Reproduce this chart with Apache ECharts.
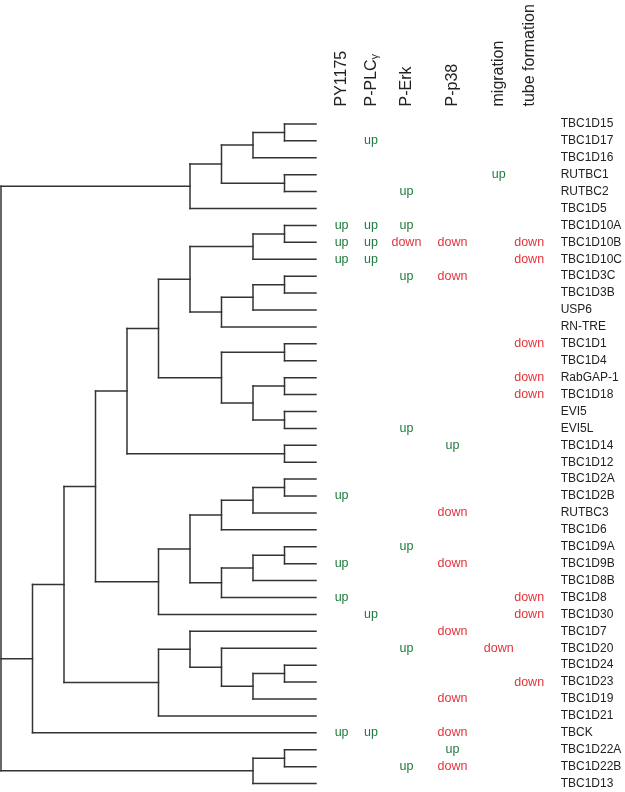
<!DOCTYPE html>
<html>
<head>
<meta charset="utf-8">
<script src="https://cdn.jsdelivr.net/npm/echarts@6/dist/echarts.min.js"></script>
<style>html,body{margin:0;padding:0;background:#fff}#c{width:625px;height:792px}</style>
</head>
<body>
<div id="c"></div>
<script>
// ---------- data ----------
const leafNames = ['TBC1D15','TBC1D17','TBC1D16','RUTBC1','RUTBC2','TBC1D5','TBC1D10A','TBC1D10B','TBC1D10C','TBC1D3C','TBC1D3B','USP6','RN-TRE','TBC1D1','TBC1D4','RabGAP-1','TBC1D18','EVI5','EVI5L','TBC1D14','TBC1D12','TBC1D2A','TBC1D2B','RUTBC3','TBC1D6','TBC1D9A','TBC1D9B','TBC1D8B','TBC1D8','TBC1D30','TBC1D7','TBC1D20','TBC1D24','TBC1D23','TBC1D19','TBC1D21','TBCK','TBC1D22A','TBC1D22B','TBC1D13'];

// dendrogram: [mergeLevel, child, child, ...]; leaves are names (level 10)
const tree = [0,
  [6, [7, [8, [9,'TBC1D15','TBC1D17'], 'TBC1D16'], [9,'RUTBC1','RUTBC2']], 'TBC1D5'],
  [1,
    [2,
      [3,
        [4,
          [5,
            [6, [8, [9,'TBC1D10A','TBC1D10B'], 'TBC1D10C'], [7, [8, [9,'TBC1D3C','TBC1D3B'], 'USP6'], 'RN-TRE']],
            [7, [9,'TBC1D1','TBC1D4'], [8, [9,'RabGAP-1','TBC1D18'], [9,'EVI5','EVI5L']]]
          ],
          [9,'TBC1D14','TBC1D12']
        ],
        [5,
          [6, [7, [8, [9,'TBC1D2A','TBC1D2B'], 'RUTBC3'], 'TBC1D6'], [7, [8, [9,'TBC1D9A','TBC1D9B'], 'TBC1D8B'], 'TBC1D8']],
          'TBC1D30'
        ]
      ],
      [5, [6, 'TBC1D7', [7, 'TBC1D20', [8, [9,'TBC1D24','TBC1D23'], 'TBC1D19']]], 'TBC1D21']
    ],
    'TBCK'
  ],
  [8, [9,'TBC1D22A','TBC1D22B'], 'TBC1D13']
];
const leafLevel = 10;

const columns = ['PY1175','P-PLCγ','P-Erk','P-p38','migration','tube formation'];
const colPY1175 = {'TBC1D10A':'up','TBC1D10B':'up','TBC1D10C':'up','TBC1D2B':'up','TBC1D9B':'up','TBC1D8':'up','TBCK':'up'};
const colPPLCg  = {'TBC1D17':'up','TBC1D10A':'up','TBC1D10B':'up','TBC1D10C':'up','TBC1D30':'up','TBCK':'up'};
const colPErk   = {'RUTBC2':'up','TBC1D10A':'up','TBC1D10B':'down','TBC1D3C':'up','EVI5L':'up','TBC1D9A':'up','TBC1D20':'up','TBC1D22B':'up'};
const colPp38   = {'TBC1D10B':'down','TBC1D3C':'down','TBC1D14':'up','RUTBC3':'down','TBC1D9B':'down','TBC1D7':'down','TBC1D19':'down','TBCK':'down','TBC1D22A':'up','TBC1D22B':'down'};
const colMigration = {'RUTBC1':'up','TBC1D20':'down'};
const colTube   = {'TBC1D10B':'down','TBC1D10C':'down','TBC1D1':'down','RabGAP-1':'down','TBC1D18':'down','TBC1D8':'down','TBC1D30':'down','TBC1D23':'down'};
const columnData = [colPY1175, colPPLCg, colPErk, colPp38, colMigration, colTube];

// ---------- layout constants (not data) ----------
const colPos = [22, 52, 88, 135, 182, 213];
const FONT = 'Liberation Sans, Arial, sans-serif';
const GREEN = '#1e7a3e', RED = '#e3343c';

// ---------- build dendrogram segments ----------
const segments = [];
function layout(node) {
  if (typeof node === 'string') return { x: leafLevel, y: leafNames.indexOf(node) };
  const L = node[0];
  const kids = node.slice(1).map(layout);
  const y0 = kids[0].y, y1 = kids[kids.length - 1].y;
  segments.push([L, y0, L, y1]);
  kids.forEach(k => segments.push([L, k.y, k.x, k.y]));
  return { x: L, y: (y0 + y1) / 2 };
}
layout(tree);

const cells = [];
columnData.forEach((col, ci) => {
  leafNames.forEach((n, ri) => { if (col[n]) cells.push([colPos[ci], ri, col[n]]); });
});

const chart = echarts.init(document.getElementById('c'), null, { renderer: 'canvas' });
chart.setOption({
  animation: false,
  backgroundColor: '#fff',
  grid: [
    { left: 1, top: 115.5, width: 315, height: 680 },
    { left: 320, top: 115.5, width: 240, height: 680 }
  ],
  xAxis: [
    { gridIndex: 0, type: 'value', min: 0, max: 10, show: false },
    { gridIndex: 1, type: 'value', min: 0, max: 240, position: 'top',
      axisLine: { show: false }, axisTick: { show: false }, splitLine: { show: false },
      axisLabel: {
        customValues: colPos, rotate: -90, margin: 9, fontSize: 16, color: '#222', fontFamily: FONT,
        formatter: v => {
          const i = colPos.indexOf(v);
          const s = columns[i] || '';
          return s === 'P-PLCγ' ? '{m|P-PLC}{g|γ}' : s;
        },
        rich: {
          m: { fontSize: 16, fontFamily: FONT, color: '#222', lineHeight: 18, verticalAlign: 'bottom' },
          g: { fontSize: 11, fontFamily: FONT, color: '#222', lineHeight: 6, verticalAlign: 'bottom' }
        }
      } }
  ],
  yAxis: [
    { gridIndex: 0, type: 'value', min: -0.5, max: 39.5, inverse: true, show: false },
    { gridIndex: 1, type: 'category', data: leafNames, inverse: true, position: 'right',
      axisLine: { show: false }, axisTick: { show: false }, splitLine: { show: false },
      axisLabel: { align: 'left', margin: 5, fontSize: 12, color: '#222', fontFamily: FONT, interval: 0 } }
  ],
  series: [
    {
      type: 'custom', xAxisIndex: 0, yAxisIndex: 0, clip: false,
      data: segments,
      renderItem: (params, api) => {
        const p1 = api.coord([api.value(0), api.value(1)]);
        const p2 = api.coord([api.value(2), api.value(3)]);
        return { type: 'line', shape: { x1: p1[0], y1: p1[1], x2: p2[0], y2: p2[1] },
          style: { stroke: '#333', lineWidth: 1.5, lineCap: 'square' } };
      }
    },
    {
      type: 'custom', xAxisIndex: 1, yAxisIndex: 1, clip: false,
      data: cells,
      renderItem: (params, api) => {
        const p = api.coord([api.value(0), api.value(1)]);
        const t = cells[params.dataIndex][2];
        return { type: 'text', x: p[0], y: p[1],
          style: { text: t, fill: t === 'up' ? GREEN : RED, font: '12.5px ' + FONT, align: 'center', verticalAlign: 'middle' } };
      }
    }
  ]
});
</script>
</body>
</html>
